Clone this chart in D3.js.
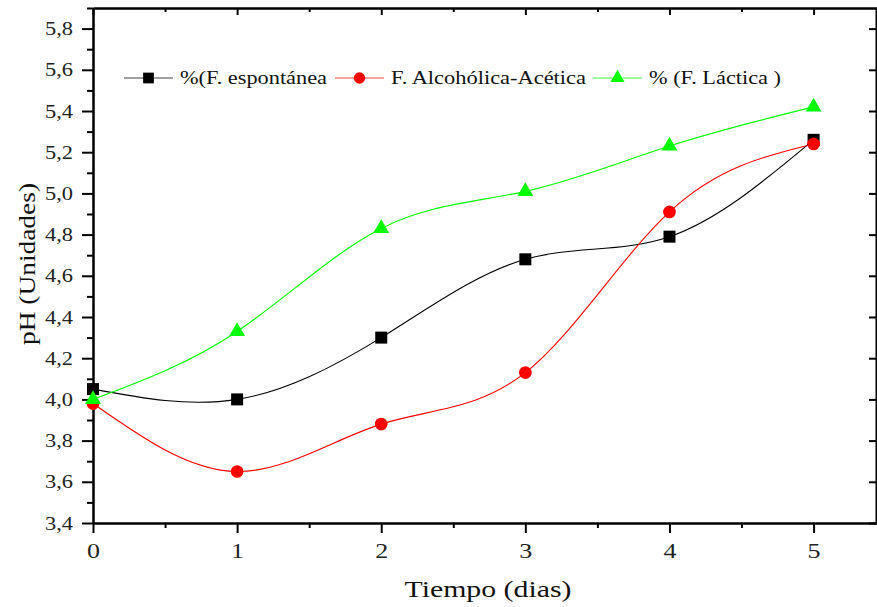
<!DOCTYPE html>
<html>
<head>
<meta charset="utf-8">
<script src="https://cdn.jsdelivr.net/npm/d3@7"></script>
<style>
  body { margin: 0; background: #fff; }
  svg { display: block; font-family: "Times New Roman", "Liberation Serif", Tinos, serif; font-weight: normal; }
  .axis path, .axis line { stroke: #000; stroke-width: 2; }
  .axisLabel { font-size: 23px; fill: #111; }
  .legendText { font-size: 18.5px; fill: #111; }
</style>
</head>
<body>
<svg width="877" height="607"></svg>
<script>
var svg = d3.select('svg');

// days and pH readings
var dias = [0, 1, 2, 3, 4, 5];
var espontanea = [4.05, 4.00, 4.30, 4.68, 4.79, 5.26];
var alcoholica = [3.98, 3.65, 3.88, 4.13, 4.91, 5.24];
var lactica = [4.00, 4.33, 4.83, 5.01, 5.23, 5.42];
var serieNames = ['%(F. espontánea', 'F. Alcohólica-Acética', '% (F. Láctica )'];
var yTicks = [3.4, 3.6, 3.8, 4.0, 4.2, 4.4, 4.6, 4.8, 5.0, 5.2, 5.4, 5.6, 5.8];

var mLeft = 93, mRight = 877, mTop = 8, mBottom = 523;

var xScale = d3.scaleLinear().domain([0, 5.44]).range([mLeft, mRight]);
var yScale = d3.scaleLinear().domain([3.4, 5.9]).range([mBottom, mTop]);

var series = [
  {name: serieNames[0], values: espontanea, color: '#000000', legendColor: '#808080', symbol: d3.symbolSquare, size: 144, textW: 147},
  {name: serieNames[1], values: alcoholica, color: '#ff0000', legendColor: '#ff8080', symbol: d3.symbolCircle, size: 127, textW: 195},
  {name: serieNames[2], values: lactica, color: '#00ff00', legendColor: '#80ff80', symbol: d3.symbolTriangle, size: 110, textW: 132}
];

var fmt = function(d){ return d3.format('.1f')(d).replace('.', ','); };
var minorX = [0.5, 1.5, 2.5, 3.5, 4.5];

// the original font is drawn a bit wide, so stretch the tick labels
function serifTicks(g, size, width){
   g.attr('font-family', '"Times New Roman", "Liberation Serif", serif')
    .attr('font-size', size);
   g.selectAll('text')
    .attr('fill', '#222')
    .attr('textLength', width)
    .attr('lengthAdjust', 'spacingAndGlyphs');
}

// axes: left and bottom ticks out, top and right ticks in
svg.append('g')
   .attr('class', 'axis')
   .attr('transform', 'translate(' + mLeft + ',0)')
   .call(d3.axisLeft(yScale).tickValues(yTicks).tickFormat(fmt).tickSize(11).tickPadding(9).tickSizeOuter(0))
   .call(serifTicks, 19, 28);

svg.append('g')
   .attr('class', 'axis')
   .attr('transform', 'translate(' + mLeft + ',0)')
   .call(d3.axisLeft(yScale).tickValues(d3.range(3.5, 5.9, 0.2)).tickFormat('').tickSize(6).tickSizeOuter(0));

svg.append('g')
   .attr('class', 'axis')
   .attr('transform', 'translate(0,' + mBottom + ')')
   .call(d3.axisBottom(xScale).tickValues(dias).tickFormat(d3.format('d')).tickSize(10).tickSizeOuter(0))
   .call(serifTicks, 21, 13)
   .call(function(g){ g.selectAll('text').attr('y', 20).attr('dy', '0.71em'); });

svg.append('g')
   .attr('class', 'axis')
   .attr('transform', 'translate(0,' + mBottom + ')')
   .call(d3.axisBottom(xScale).tickValues(minorX).tickFormat('').tickSize(5).tickSizeOuter(0));

svg.append('g')
   .attr('class', 'axis')
   .attr('transform', 'translate(0,' + mTop + ')')
   .call(d3.axisBottom(xScale).tickValues(dias).tickFormat('').tickSize(7).tickSizeOuter(0));

svg.append('g')
   .attr('class', 'axis')
   .attr('transform', 'translate(0,' + mTop + ')')
   .call(d3.axisBottom(xScale).tickValues(minorX).tickFormat('').tickSize(4).tickSizeOuter(0));

svg.append('g')
   .attr('class', 'axis')
   .attr('transform', 'translate(' + (mRight - 1) + ',0)')
   .call(d3.axisLeft(yScale).tickValues(yTicks).tickFormat('').tickSize(7).tickSizeOuter(0));

// lines
var line = d3.line()
   .x(function(d, i){ return xScale(dias[i]); })
   .y(function(d){ return yScale(d); })
   .curve(d3.curveNatural);

series.forEach(function(s){
   svg.append('path')
      .attr('d', line(s.values))
      .attr('fill', 'none')
      .attr('stroke', s.color)
      .attr('stroke-width', 1.1);
});

series.forEach(function(s){
   svg.selectAll(null)
      .data(s.values)
      .enter()
      .append('path')
      .attr('d', d3.symbol().type(s.symbol).size(s.size))
      .attr('transform', function(d, i){ return 'translate(' + xScale(dias[i]) + ',' + yScale(d) + ')'; })
      .attr('fill', s.color);
});

// legend
var legendX = [124, 335, 593];
var legendY = 78;
series.forEach(function(s, i){
   var g = svg.append('g').attr('transform', 'translate(' + legendX[i] + ',' + legendY + ')');
   g.append('line').attr('x1', 0).attr('x2', 49).attr('y1', 0).attr('y2', 0)
      .attr('stroke', s.legendColor).attr('stroke-width', 1.5);
   g.append('path').attr('d', d3.symbol().type(s.symbol).size(s.size * 0.8))
      .attr('transform', 'translate(24.5,0)').attr('fill', s.color);
   g.append('text').attr('class', 'legendText').attr('x', 56).attr('dy', '0.35em')
      .attr('textLength', s.textW).attr('lengthAdjust', 'spacingAndGlyphs')
      .text(s.name);
});

// axis titles
svg.append('text')
   .attr('class', 'axisLabel')
   .attr('text-anchor', 'middle')
   .attr('x', 488)
   .attr('y', 597)
   .attr('textLength', 167).attr('lengthAdjust', 'spacingAndGlyphs')
   .text('Tiempo (dias)');

svg.append('text')
   .attr('class', 'axisLabel')
   .attr('text-anchor', 'middle')
   .attr('transform', 'translate(35,264)rotate(-90)')
   .attr('textLength', 162).attr('lengthAdjust', 'spacingAndGlyphs')
   .text('pH (Unidades)');
</script>
</body>
</html>
